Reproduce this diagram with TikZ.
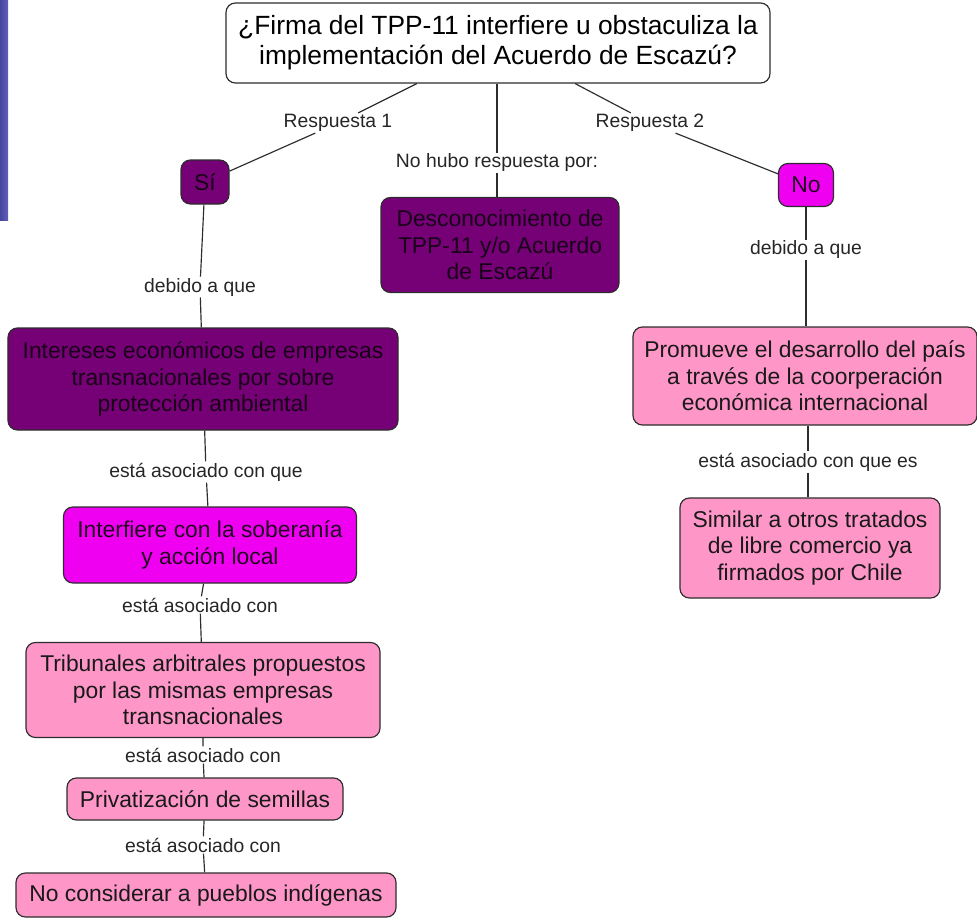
\documentclass[tikz,border=0pt]{standalone}
\usepackage{fontspec}
\setmainfont{Liberation Sans}
\usepackage{tikz}
\usetikzlibrary{positioning}
\definecolor{darkPurple}{RGB}{118,0,118}
\definecolor{brightMagenta}{RGB}{240,0,240}
\definecolor{softPink}{RGB}{255,150,200}
\definecolor{edgeGray}{RGB}{45,45,45}
\tikzset{
  conceptBox/.style={draw = edgeGray, line width = 1pt, rounded corners = 8pt, align = center, inner sep = 2pt,
    font = \fontsize{19.5}{22.5}\selectfont},
  linkLabel/.style={fill = white, inner sep = 1pt, font = \fontsize{16.5}{19}\selectfont, text = black!85},
  linkLine/.style={draw = edgeGray, line width = 1pt}
}

\begin{document}
\begin{tikzpicture}
          \useasboundingbox (0,0) rectangle (29.31,-27.63);
          \fill[left color = {rgb,255:red,70;green,70;blue,160}, right color = {rgb,255:red,95;green,95;blue,185}] (0,0) rectangle (0.24,-6.6);
          % conceptos
          \node[conceptBox, fill = white, minimum width = 16.32cm, minimum height = 2.4cm, font = \fontsize{22.5}{25.5}\selectfont] (pregunta) at (14.94,-1.29) {¿Firma del TPP-11 interfiere u obstaculiza la\\implementación del Acuerdo de Escazú?};
          \node[conceptBox, fill = darkPurple, text = black!80!darkPurple, minimum width = 1.44cm, minimum height = 1.32cm] (si) at (6.15,-5.46) {Sí};
          \node[conceptBox, fill = darkPurple, text = black!80!darkPurple, minimum width = 7.14cm, minimum height = 2.85cm] (desconocimiento) at (15.0,-7.35) {Desconocimiento de\\TPP-11 y/o Acuerdo\\de Escazú};
          \node[conceptBox, fill = brightMagenta, text = black!70!darkPurple, minimum width = 1.65cm, minimum height = 1.29cm] (no) at (24.18,-5.55) {No};
          \node[conceptBox, fill = darkPurple, text = black!80!darkPurple, minimum width = 11.7cm, minimum height = 3.06cm] (intereses) at (6.09,-11.37) {Intereses económicos de empresas\\transnacionales por sobre\\protección ambiental};
          \node[conceptBox, fill = softPink, text = black!90, minimum width = 10.32cm, minimum height = 2.94cm] (promueve) at (24.15,-11.28) {Promueve el desarrollo del país\\a través de la coorperación\\económica internacional};
          \node[conceptBox, fill = softPink, text = black!90, minimum width = 7.8cm, minimum height = 3.0cm] (similar) at (24.3,-16.44) {Similar a otros tratados\\de libre comercio ya\\firmados por Chile};
          \node[conceptBox, fill = brightMagenta, text = black!70!darkPurple, minimum width = 8.79cm, minimum height = 2.28cm] (interfiere) at (6.3,-16.35) {Interfiere con la soberanía\\y acción local};
          \node[conceptBox, fill = softPink, text = black!90, minimum width = 10.62cm, minimum height = 2.85cm] (tribunales) at (6.09,-20.7) {Tribunales arbitrales propuestos\\por las mismas empresas\\transnacionales};
          \node[conceptBox, fill = softPink, text = black!90, minimum width = 8.28cm, minimum height = 1.26cm] (semillas) at (6.15,-23.97) {Privatización de semillas};
          \node[conceptBox, fill = softPink, text = black!90, minimum width = 11.4cm, minimum height = 1.32cm] (indigenas) at (6.18,-26.85) {No considerar a pueblos indígenas};
          % frases de enlace
          \node[linkLabel] (resp1) at (10.14,-3.69) {Respuesta 1};
          \node[linkLabel] (resp2) at (19.5,-3.69) {Respuesta 2};
          \node[linkLabel] (nohubo) at (14.91,-4.89) {No hubo respuesta por:};
          \node[linkLabel] (debidoSi) at (6.0,-8.61) {debido a que};
          \node[linkLabel] (debidoNo) at (24.18,-7.5) {debido a que};
          \node[linkLabel] (asocQue) at (6.18,-14.16) {está asociado con que};
          \node[linkLabel] (asocQueEs) at (24.24,-13.86) {está asociado con que es};
          \node[linkLabel] (asocA) at (6.0,-18.15) {está asociado con};
          \node[linkLabel] (asocB) at (6.09,-22.65) {está asociado con};
          \node[linkLabel] (asocC) at (6.09,-25.35) {está asociado con};
          % conectores
          \draw[linkLine] (pregunta) -- (resp1) -- (si);
          \draw[linkLine] (pregunta) -- (resp2) -- (no);
          \draw[linkLine] (pregunta.south -| nohubo) -- (nohubo) -- (desconocimiento.north -| nohubo);
          \draw[linkLine] (si) -- (debidoSi) -- (intereses);
          \draw[linkLine] (no) -- (debidoNo) -- (promueve.north -| debidoNo);
          \draw[linkLine] (promueve.south -| asocQueEs) -- (asocQueEs) -- (similar.north -| asocQueEs);
          \draw[linkLine] (intereses) -- (asocQue) -- (interfiere);
          \draw[linkLine] (interfiere) -- (asocA) -- (tribunales);
          \draw[linkLine] (tribunales) -- (asocB) -- (semillas);
          \draw[linkLine] (semillas) -- (asocC) -- (indigenas);
        \end{tikzpicture}
\end{document}
